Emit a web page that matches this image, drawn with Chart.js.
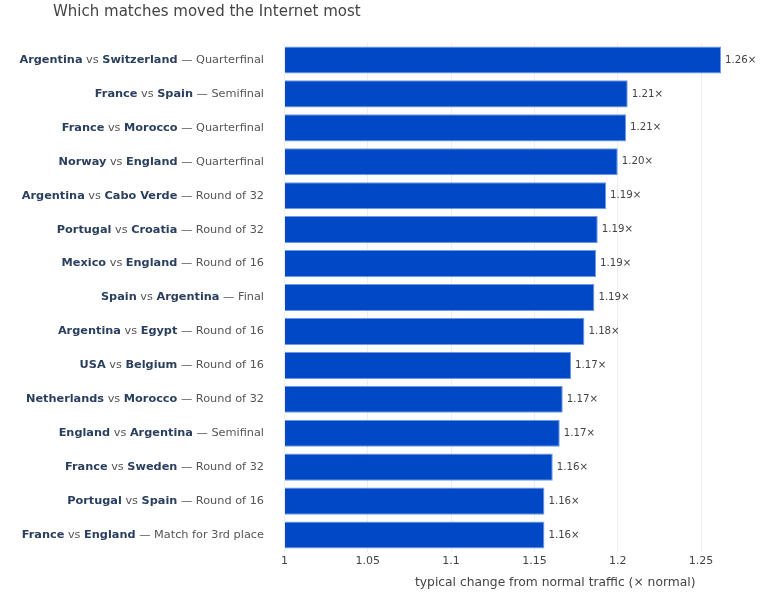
<!DOCTYPE html>
<html>
<head>
<meta charset="utf-8">
<script src="https://cdn.jsdelivr.net/npm/chart.js@4"></script>
<style>
  html, body { margin: 0; padding: 0; background: #fff; overflow: hidden; }
  #wrap { width: 768px; height: 594px; overflow: hidden; }
</style>
</head>
<body>
<div id="wrap"><canvas id="matchChart" width="860" height="594"></canvas></div>
<script>
// match data, top to bottom
const homeTeams = ['Argentina', 'France', 'France', 'Norway', 'Argentina', 'Portugal', 'Mexico',
    'Spain', 'Argentina', 'USA', 'Netherlands', 'England', 'France', 'Portugal', 'France'];
const awayTeams = ['Switzerland', 'Spain', 'Morocco', 'England', 'Cabo Verde', 'Croatia', 'England',
    'Argentina', 'Egypt', 'Belgium', 'Morocco', 'Argentina', 'Sweden', 'Spain', 'England'];
const stages = ['Quarterfinal', 'Semifinal', 'Quarterfinal', 'Quarterfinal', 'Round of 32', 'Round of 32',
    'Round of 16', 'Final', 'Round of 16', 'Round of 16', 'Round of 32', 'Semifinal', 'Round of 32',
    'Round of 16', 'Match for 3rd place'];
const trafficChange = [1.262, 1.206, 1.205, 1.200, 1.193, 1.188, 1.187, 1.186, 1.180, 1.172,
    1.167, 1.1652, 1.161, 1.156, 1.156];
const xTickLabels = ['1', '1.05', '1.1', '1.15', '1.2', '1.25', '1.3'];

const categories = homeTeams.map((h, i) => h + ' vs ' + awayTeams[i] + ' — ' + stages[i]);

const FONT = '"DejaVu Sans", Verdana, sans-serif';

const richLabels = {
    id: 'richLabels',
    afterDraw(chart) {
        const ctx = chart.ctx;
        const yScale = chart.scales.y;
        const xScale = chart.scales.x;
        const bold = 'bold 11.3px ' + FONT;
        const normal = '11.3px ' + FONT;

        ctx.save();
        // title
        ctx.font = '15px ' + FONT;
        ctx.fillStyle = '#444';
        ctx.textAlign = 'left';
        ctx.textBaseline = 'middle';
        ctx.fillText('Which matches moved the Internet most', 53, 12);

        categories.forEach((c, i) => {
            const y = yScale.getPixelForTick(i);
            const parts = [
                [homeTeams[i], bold, '#2a3f5f'],
                [' vs ', normal, '#555'],
                [awayTeams[i], bold, '#2a3f5f'],
                [' — ' + stages[i], normal, '#555']
            ];
            let x = 264;
            ctx.textAlign = 'right';
            for (let p = parts.length - 1; p >= 0; p--) {
                ctx.font = parts[p][1];
                ctx.fillStyle = parts[p][2];
                ctx.fillText(parts[p][0], x, y);
                x -= ctx.measureText(parts[p][0]).width;
            }

            // value label after the bar
            ctx.font = '10.2px ' + FONT;
            ctx.fillStyle = '#444';
            ctx.textAlign = 'left';
            const v = trafficChange[i];
            ctx.fillText(v.toFixed(2) + '×', xScale.getPixelForValue(v) + 4, y);
        });
        ctx.restore();
    }
};

new Chart(document.getElementById('matchChart'), {
    type: 'bar',
    data: {
        labels: categories,
        datasets: [{
            data: trafficChange,
            base: 1,
            backgroundColor: '#0048c6',
            borderColor: '#6f9ae6',
            borderWidth: 1,
            barPercentage: 0.8,
            categoryPercentage: 1
        }]
    },
    options: {
        indexAxis: 'y',
        responsive: false,
        animation: false,
        layout: { padding: { top: 43, right: 34, bottom: 0, left: 0 } },
        plugins: {
            legend: { display: false },
            tooltip: { enabled: false }
        },
        scales: {
            x: {
                min: 1,
                max: 1.325,
                afterBuildTicks: (scale) => {
                    scale.ticks = xTickLabels.map(t => ({ value: parseFloat(t) }));
                },
                afterFit: (scale) => { scale.height = 42; },
                ticks: {
                    callback: (value) => xTickLabels.find(t => Math.abs(parseFloat(t) - value) < 1e-6),
                    font: { family: FONT, size: 11 },
                    color: '#444',
                    padding: 3
                },
                grid: { color: '#eeeeee', drawTicks: false },
                border: { display: false },
                title: {
                    display: true,
                    text: 'typical change from normal traffic (× normal)',
                    font: { family: FONT, size: 12.3 },
                    color: '#444',
                    padding: { top: 4, bottom: 4 }
                }
            },
            y: {
                ticks: { display: false },
                afterFit: (scale) => { scale.width = 284.5; },
                grid: { display: false },
                border: { display: false }
            }
        }
    },
    plugins: [richLabels]
});
</script>
</body>
</html>
